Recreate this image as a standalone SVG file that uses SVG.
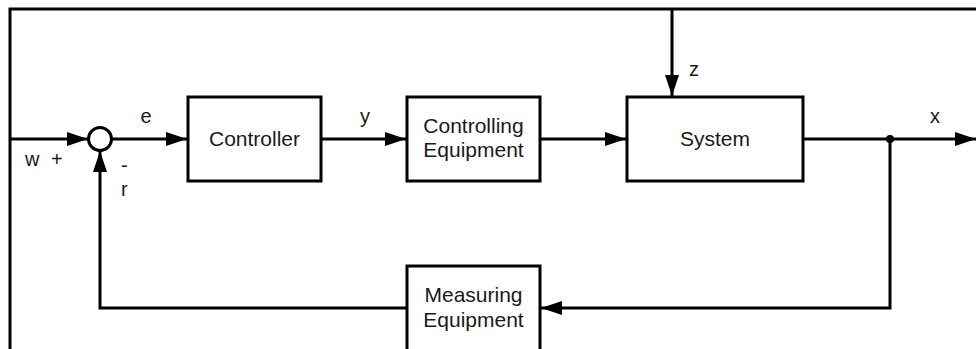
<svg xmlns="http://www.w3.org/2000/svg" width="976" height="349" viewBox="0 0 976 349">
  <style>
    .box { fill: #fff; stroke: #000; stroke-width: 3; }
    .ln { fill: none; stroke: #000; stroke-width: 3; }
    .t { font-family: "Liberation Sans", Arial, sans-serif; font-size: 21px; fill: #1a1a1a; }
    .lb { font-family: "Liberation Sans", Arial, sans-serif; font-size: 20px; fill: #1a1a1a; }
  </style>
  <defs>
    <marker id="arr" markerUnits="userSpaceOnUse" markerWidth="21" markerHeight="14" refX="21" refY="7" orient="auto">
      <path d="M0,0 L21,7 L0,14 z" fill="#000"/>
    </marker>
  </defs>
  <rect width="976" height="349" fill="#fff"/>
  <g id="frame">
    <path class="ln" d="M10,349 V9 H976" stroke-width="2.5"/>
  </g>
  <g id="connectors">
    <path class="ln" d="M10,139 H88" marker-end="url(#arr)"/>
    <path class="ln" d="M112,139 H187" marker-end="url(#arr)"/>
    <path class="ln" d="M321,139 H406" marker-end="url(#arr)"/>
    <path class="ln" d="M540,139 H626" marker-end="url(#arr)"/>
    <path class="ln" d="M672,9 V96" marker-end="url(#arr)"/>
    <path class="ln" d="M803,139 H976" marker-end="url(#arr)"/>
    <path class="ln" d="M890,139 V308 H541" marker-end="url(#arr)"/>
    <path class="ln" d="M407,308 H100 V151" marker-end="url(#arr)"/>
    <circle cx="890" cy="139" r="4" fill="#000"/>
  </g>
  <g id="sum">
    <circle cx="100" cy="139" r="11.5" fill="#fff" stroke="#000" stroke-width="3"/>
  </g>
  <g id="controller">
    <rect class="box" x="188" y="97" width="133" height="84"/>
    <text class="t" x="254.5" y="146" text-anchor="middle">Controller</text>
  </g>
  <g id="controlling-equipment">
    <rect class="box" x="407" y="97" width="133" height="84"/>
    <text class="t" x="473.5" y="133" text-anchor="middle">Controlling</text>
    <text class="t" x="473.5" y="157" text-anchor="middle">Equipment</text>
  </g>
  <g id="system">
    <rect class="box" x="627" y="97" width="176" height="84"/>
    <text class="t" x="715" y="146" text-anchor="middle">System</text>
  </g>
  <g id="measuring-equipment">
    <rect class="box" x="407" y="266" width="133" height="86"/>
    <text class="t" x="473.5" y="302" text-anchor="middle">Measuring</text>
    <text class="t" x="473.5" y="327" text-anchor="middle">Equipment</text>
  </g>
  <g id="labels">
    <text class="lb" x="146" y="123" text-anchor="middle">e</text>
    <text class="lb" x="365" y="123" text-anchor="middle">y</text>
    <text class="lb" x="935" y="123" text-anchor="middle">x</text>
    <text class="lb" x="694" y="76" text-anchor="middle">z</text>
    <text class="lb" x="25" y="166">w</text>
    <text class="lb" x="51" y="166">+</text>
    <text class="lb" x="121" y="172">-</text>
    <text class="lb" x="121" y="196">r</text>
  </g>
</svg>
